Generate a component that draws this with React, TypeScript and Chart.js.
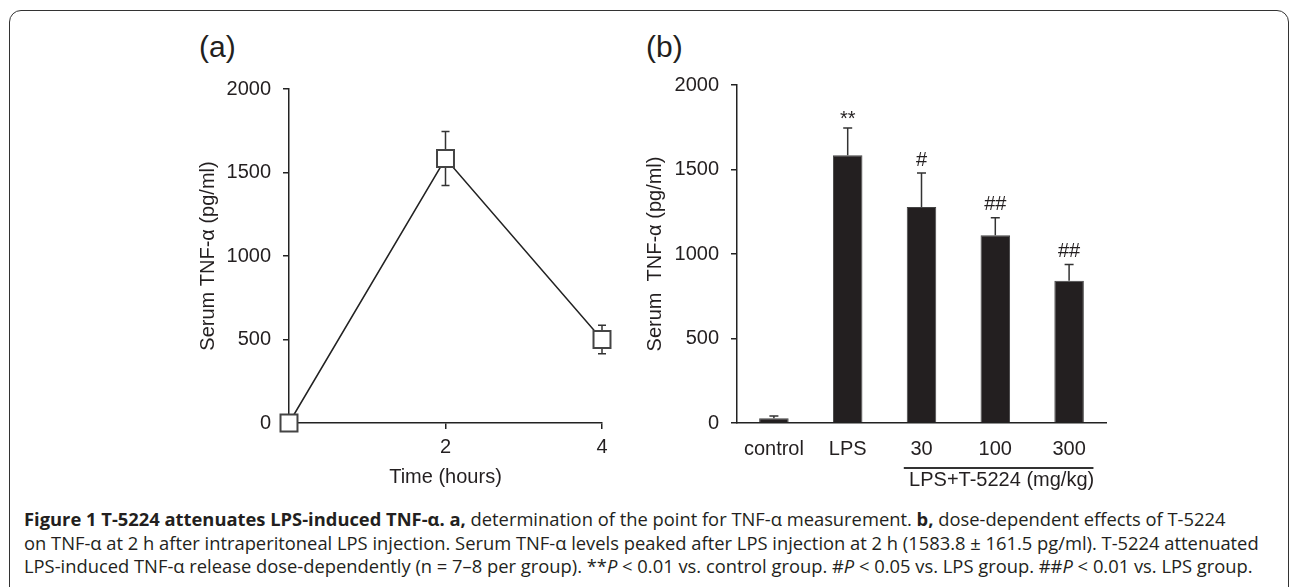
import React, { useEffect, useRef } from "react";
import { Chart, registerables } from "chart.js";

Chart.register(...registerables);

// ---------- Panel (a) data ----------
const timeHours = [0, 2, 4];
const timeMeans = [0, 1583.8, 500];
const timeErrs = [0, 161.5, 86];
const timeTicks = [2, 4];

// ---------- Panel (b) data ----------
const groupLabels = ["control", "LPS", "30", "100", "300"];
const groupMeans = [28, 1583.8, 1278, 1111, 842];
const groupErrs = [13, 161.5, 201, 103, 96];
const groupMarks = ["", "**", "#", "##", "##"];
const doseGroupLabel = "LPS+T-5224 (mg/kg)";

const yTitleA = "Serum TNF-α (pg/ml)";
const yTitleB = "Serum  TNF-α (pg/ml)";
const xTitleA = "Time (hours)";

const INK = "#231f20";
const FONT = "'Liberation Sans', Arial, Helvetica, sans-serif";
const plainNum = (v: any) => String(v);

function ChartA() {
  const ref = useRef<HTMLCanvasElement | null>(null);
  useEffect(() => {
    if (!ref.current) return;
    const errPlugin = {
      id: "errA",
      beforeDatasetsDraw(chart: any) {
        const { ctx, scales } = chart;
        const xs = scales.x;
        const ys = scales.y;
        ctx.save();
        ctx.strokeStyle = "#333";
        ctx.lineWidth = 1.5;
        timeHours.forEach((t, i) => {
          const e = timeErrs[i];
          if (!e) return;
          const x = xs.getPixelForValue(t);
          const y1 = ys.getPixelForValue(timeMeans[i] + e);
          const y2 = ys.getPixelForValue(timeMeans[i] - e);
          ctx.beginPath();
          ctx.moveTo(x, y1);
          ctx.lineTo(x, y2);
          ctx.moveTo(x - 4, y1);
          ctx.lineTo(x + 4, y1);
          ctx.moveTo(x - 4, y2);
          ctx.lineTo(x + 4, y2);
          ctx.stroke();
        });
        ctx.restore();
      },
    };
    const chart = new Chart(ref.current, {
      type: "line",
      data: {
        datasets: [
          {
            data: timeHours.map((t, i) => ({ x: t, y: timeMeans[i] })),
            borderColor: "#222",
            borderWidth: 1.5,
            pointStyle: "rect",
            pointRadius: 12,
            pointBorderWidth: 2,
            pointBorderColor: "#444",
            pointBackgroundColor: "#fff",
            tension: 0,
            clip: false as any,
          },
        ],
      },
      options: {
        animation: false,
        responsive: false,
        events: [],
        layout: { padding: { left: 0, top: 29, right: 18, bottom: 0 } },
        plugins: { legend: { display: false }, tooltip: { enabled: false } },
        scales: {
          x: {
            type: "linear",
            min: 0,
            max: 4,
            afterBuildTicks: (s: any) => {
              s.ticks = timeTicks.map((v) => ({ value: v }));
            },
            afterFit: (s: any) => {
              s.height = 77;
            },
            ticks: {
              color: INK,
              font: { family: FONT, size: 20 },
              padding: 6,
              maxRotation: 0,
              callback: plainNum,
            },
            grid: { drawOnChartArea: false, tickLength: 6, color: "#222", lineWidth: 1.5 },
            border: { display: true, color: "#222", width: 1.5 },
            title: {
              display: true,
              text: xTitleA,
              color: INK,
              font: { family: FONT, size: 20 },
              padding: { top: 0, bottom: 11 },
            },
          },
          y: {
            min: 0,
            max: 2000,
            afterFit: (s: any) => {
              s.width = 139;
            },
            ticks: {
              stepSize: 500,
              color: INK,
              font: { family: FONT, size: 20 },
              padding: 12,
              callback: plainNum,
            },
            grid: { drawOnChartArea: false, tickLength: 6, color: "#222", lineWidth: 1.5 },
            border: { display: true, color: "#222", width: 1.5 },
            title: {
              display: true,
              text: yTitleA,
              color: INK,
              font: { family: FONT, size: 20 },
              padding: { top: 46, bottom: 0 },
            },
          },
        },
      },
      plugins: [errPlugin],
    } as any);
    return () => chart.destroy();
  }, []);
  return (
    <canvas
      ref={ref}
      width={470}
      height={440}
      style={{ position: "absolute", left: 150, top: 60, width: 470, height: 440 }}
    />
  );
}

function ChartB() {
  const ref = useRef<HTMLCanvasElement | null>(null);
  useEffect(() => {
    if (!ref.current) return;
    const errPlugin = {
      id: "errB",
      afterDatasetsDraw(chart: any) {
        const { ctx, scales } = chart;
        const xs = scales.x;
        const ys = scales.y;
        ctx.save();
        ctx.strokeStyle = "#333";
        ctx.lineWidth = 1.5;
        ctx.fillStyle = INK;
        groupLabels.forEach((_, i) => {
          const x = xs.getPixelForValue(i);
          const yTop = ys.getPixelForValue(groupMeans[i] + groupErrs[i]);
          const yBar = ys.getPixelForValue(groupMeans[i]);
          ctx.beginPath();
          ctx.moveTo(x, yBar);
          ctx.lineTo(x, yTop);
          ctx.moveTo(x - 4.5, yTop);
          ctx.lineTo(x + 4.5, yTop);
          ctx.stroke();
          const m = groupMarks[i];
          if (m) {
            ctx.font = `20px ${FONT}`;
            ctx.textAlign = "center";
            ctx.textBaseline = "middle";
            ctx.fillText(m, x, yTop - 13 + (m === "**" ? 4 : 0));
          }
        });
        // group bracket
        const step = xs.getPixelForValue(1) - xs.getPixelForValue(0);
        const left = xs.getPixelForValue(2) - 0.24 * step;
        const right = xs.getPixelForValue(4) + 0.33 * step;
        const yLine = ys.getPixelForValue(0) + 45;
        ctx.strokeStyle = "#333";
        ctx.lineWidth = 2;
        ctx.beginPath();
        ctx.moveTo(left, yLine);
        ctx.lineTo(right, yLine);
        ctx.stroke();
        ctx.font = `20px ${FONT}`;
        ctx.textAlign = "center";
        ctx.textBaseline = "middle";
        ctx.fillText(doseGroupLabel, (left + right) / 2 + 3, yLine + 12);
        ctx.restore();
      },
    };
    const chart = new Chart(ref.current, {
      type: "bar",
      data: {
        labels: groupLabels,
        datasets: [
          {
            data: groupMeans,
            backgroundColor: INK,
            borderColor: "#444",
            borderWidth: 1,
            barPercentage: 0.4,
            categoryPercentage: 1,
          },
        ],
      },
      options: {
        animation: false,
        responsive: false,
        events: [],
        layout: { padding: { left: 0, top: 25, right: 24, bottom: 0 } },
        plugins: { legend: { display: false }, tooltip: { enabled: false } },
        scales: {
          x: {
            afterFit: (s: any) => {
              s.height = 77;
            },
            ticks: {
              color: INK,
              font: { family: FONT, size: 20 },
              padding: 14,
              maxRotation: 0,
            },
            grid: { display: true, drawOnChartArea: false, drawTicks: false, tickLength: 0 },
            border: { display: true, color: "#222", width: 1.5 },
          },
          y: {
            min: 0,
            max: 2000,
            afterFit: (s: any) => {
              s.width = 97;
            },
            ticks: {
              stepSize: 500,
              color: INK,
              font: { family: FONT, size: 20 },
              padding: 12,
              callback: plainNum,
            },
            grid: { drawOnChartArea: false, tickLength: 6, color: "#222", lineWidth: 1.5 },
            border: { display: true, color: "#222", width: 1.5 },
            title: {
              display: true,
              text: yTitleB,
              color: INK,
              font: { family: FONT, size: 20 },
              padding: { top: 3, bottom: 0 },
            },
          },
        },
      },
      plugins: [errPlugin],
    } as any);
    return () => chart.destroy();
  }, []);
  return (
    <canvas
      ref={ref}
      width={490}
      height={440}
      style={{ position: "absolute", left: 640, top: 60, width: 490, height: 440 }}
    />
  );
}

export default function App() {
  const capLine: React.CSSProperties = {
    position: "absolute",
    left: 24,
    whiteSpace: "nowrap",
    fontFamily: "'Open Sans', sans-serif",
    fontSize: 18.35,
    color: INK,
    lineHeight: "20px",
  };
  return (
    <div
      style={{
        position: "absolute",
        left: 0,
        top: 0,
        width: 1290,
        height: 587,
        overflow: "hidden",
        background: "#fff",
      }}
    >
      <div
        style={{
          position: "absolute",
          left: 9,
          top: 10,
          width: 1280,
          height: 640,
          boxSizing: "border-box",
          border: "1.5px solid #333",
          borderRadius: 12,
        }}
      />
      <div
        style={{
          position: "absolute",
          left: 199,
          top: 29,
          fontFamily: FONT,
          fontSize: 30,
          color: INK,
          lineHeight: "36px",
        }}
      >
        (a)
      </div>
      <div
        style={{
          position: "absolute",
          left: 646,
          top: 29,
          fontFamily: FONT,
          fontSize: 30,
          color: INK,
          lineHeight: "36px",
        }}
      >
        (b)
      </div>
      <ChartA />
      <ChartB />
      <div style={{ ...capLine, top: 509 }}>
        <b>Figure 1 T-5224 attenuates LPS-induced TNF-α. a,</b> determination of the point for TNF-α
        measurement. <b>b,</b> dose-dependent effects of T-5224
      </div>
      <div style={{ ...capLine, top: 533 }}>
        on TNF-α at 2 h after intraperitoneal LPS injection. Serum TNF-α levels peaked after LPS
        injection at 2 h (1583.8 ± 161.5 pg/ml). T-5224 attenuated
      </div>
      <div style={{ ...capLine, top: 556 }}>
        LPS-induced TNF-α release dose-dependently (n = 7–8 per group). **<i>P</i> &lt; 0.01 vs.
        control group. #<i>P</i> &lt; 0.05 vs. LPS group. ##<i>P</i> &lt; 0.01 vs. LPS group.
      </div>
    </div>
  );
}
